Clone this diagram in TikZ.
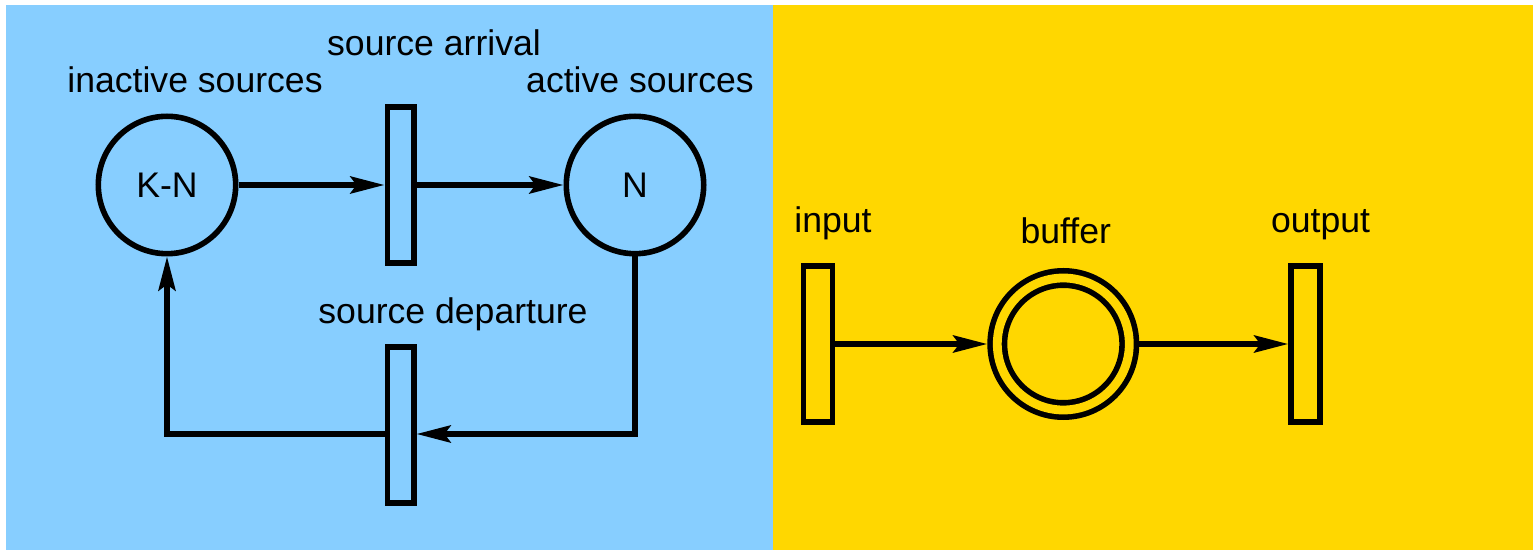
\documentclass[tikz,border=0pt]{standalone}
\usepackage{fontspec}
\setmainfont{Liberation Sans}
\usepackage{xcolor}
\usepackage{tikz}
\usetikzlibrary{arrows.meta, positioning}

\definecolor{bgblue}{RGB}{135,206,255}
\definecolor{bgyellow}{RGB}{255,215,0}

\begin{document}
\begin{tikzpicture}[x=0.5pt, y=-0.5pt, line width=2.8pt,
        every node/.style={font=\fontsize{17.8}{21}\selectfont},
        place/.style={circle, draw, minimum size=68.7pt, inner sep=0pt},
        trans/.style={rectangle, draw, minimum width=13.2pt, minimum height=78.2pt, inner sep=0pt},
        buffer/.style={circle, draw, double=bgyellow, double distance=4.4pt, minimum size=66pt, inner sep=0pt, outer sep=5pt},
        flow/.style={-{Stealth[length=17pt, width=8.5pt, inset=3pt]}},
        tag/.style={anchor=base, inner sep=0pt}]
        \useasboundingbox (0,0) rectangle (1533,550);
        \fill[bgblue]   (6,5)   rectangle (773,550);
        \fill[bgyellow] (773,5) rectangle (1533,550);

        \node[place]                           (inactive)  at (167,185) {K-N};
        \node[trans, right=73pt of inactive]   (arrival)   {};
        \node[place, right=73.5pt of arrival]  (active)    {N};
        \node[trans, below=39pt of arrival]    (departure) {};

        \node[trans, minimum width=14.5pt]                         (input)  at (818,344) {};
        \node[buffer, right=76pt of input]                         (buffer) {};
        \node[trans, minimum width=14.5pt, right=74.5pt of buffer] (output) {};

        \node[tag] at ([xshift=14pt, yshift=10.5pt]inactive.north)   {inactive sources};
        \node[tag] at ([xshift=16.75pt, yshift=24pt]arrival.north)   {source arrival};
        \node[tag] at ([xshift=2.5pt, yshift=10.5pt]active.north)    {active sources};
        \node[tag] at ([xshift=26.25pt, yshift=10pt]departure.north) {source departure};
        \node[tag] at ([xshift=7.5pt, yshift=15pt]input.north)       {input};
        \node[tag] at ([xshift=1.25pt, yshift=12pt]buffer.north)     {buffer};
        \node[tag] at ([xshift=7.5pt, yshift=15pt]output.north)      {output};

        \draw[flow] (inactive) -- (arrival);
        \draw[flow] (arrival) -- (active);
        \draw[flow] (active.south) |- ([yshift=-4.5pt]departure.east);
        \draw[flow] ([yshift=-4.5pt]departure.west) -| (inactive.south);
        \draw[flow] (input) -- (buffer);
        \draw[flow] (buffer) -- (output);
\end{tikzpicture}
\end{document}
